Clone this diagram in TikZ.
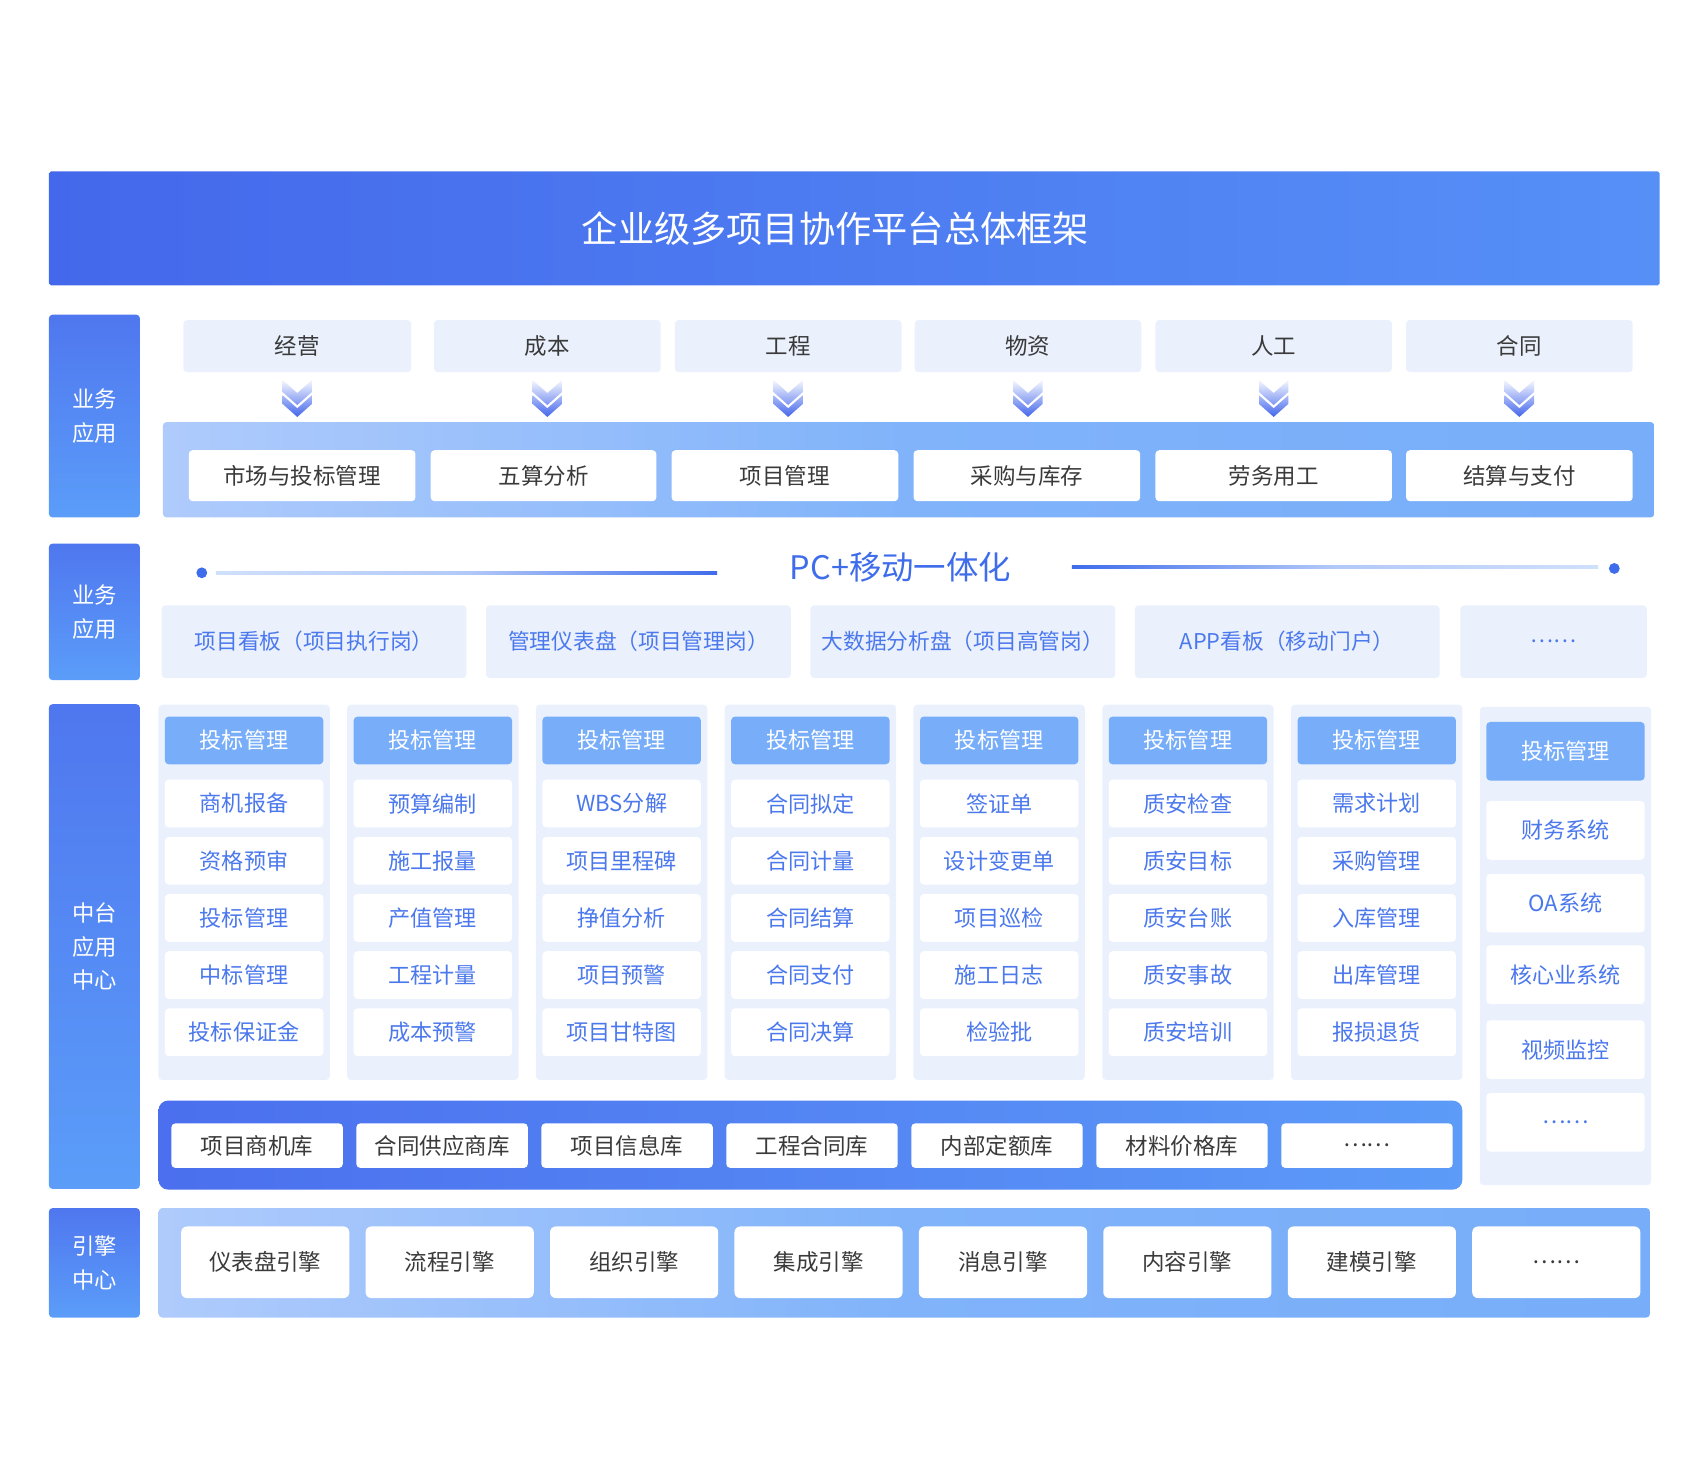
\documentclass[tikz,border=0pt]{standalone}
\usepackage{fontspec}
\setmainfont{Noto Sans CJK SC}
\usetikzlibrary{positioning}
\definecolor{titleL}{HTML}{4468EB}
\definecolor{titleR}{HTML}{5690F7}
\definecolor{sideT}{HTML}{4F77EF}
\definecolor{sideB}{HTML}{5B9DF9}
\definecolor{paleBox}{HTML}{EAF1FD}
\definecolor{bandL}{HTML}{AFCBFC}
\definecolor{bandM}{HTML}{80B3FA}
\definecolor{bandR}{HTML}{77ADF9}
\definecolor{deepL}{HTML}{4B6FEE}
\definecolor{deepR}{HTML}{5C9BF8}
\definecolor{headBox}{HTML}{78AEF9}
\definecolor{grayTxt}{HTML}{3A3A3A}
\definecolor{blueTxt}{HTML}{4B78EC}
\definecolor{pcBlue}{HTML}{3F6CEB}
\definecolor{lineLt}{HTML}{CFE0FB}
\definecolor{chevTop}{HTML}{F4F7FE}
\definecolor{chevBot}{HTML}{4466EC}
\begin{document}
\begin{tikzpicture}[x=0.02cm,y=-0.02cm]
\tikzstyle{every node}=[inner sep=0pt,rounded corners=2pt]
\tikzstyle{title}=[left color=titleL,right color=titleR,rounded corners=1pt,
  minimum width=29.7cm,minimum height=2.1cm]
\tikzstyle{side}=[top color=sideT,bottom color=sideB,text=white,minimum width=1.68cm,
  align=center,font=\fontsize{11.7}{17.6}\selectfont]
\tikzstyle{cat}=[fill=paleBox,text=grayTxt,minimum height=0.96cm,font=\fontsize{11.8}{14}\selectfont]
\tikzstyle{band}=[left color=bandL,right color=bandR,middle color=bandM]
\tikzstyle{app}=[fill=white,text=grayTxt,minimum height=0.94cm,font=\fontsize{11.8}{14}\selectfont]
\tikzstyle{view}=[fill=paleBox,text=blueTxt,minimum height=1.34cm,font=\fontsize{11.4}{14}\selectfont]
\tikzstyle{panel}=[fill=paleBox,minimum width=3.16cm]
\tikzstyle{head}=[fill=headBox,text=white,minimum width=2.92cm,font=\fontsize{11.6}{14}\selectfont]
\tikzstyle{item}=[fill=white,text=blueTxt,minimum width=2.92cm,font=\fontsize{11.6}{14}\selectfont]
\tikzstyle{deep}=[left color=deepL,right color=deepR,rounded corners=5pt]
\tikzstyle{store}=[fill=white,text=grayTxt,minimum width=3.16cm,minimum height=0.82cm,
  font=\fontsize{11.8}{14}\selectfont]
\tikzstyle{engine}=[fill=white,text=grayTxt,rounded corners=3pt,minimum width=3.1cm,
  minimum height=1.32cm,font=\fontsize{11.8}{14}\selectfont]
\tikzstyle{dot}=[circle,fill=pcBlue,minimum size=0.2cm]
\fill[white] (0,0) rectangle (1567,1364);
\useasboundingbox (0,0) rectangle (1567,1364);

% title
\node[title] (title) at (787.5,210.5) {};
\node[text=white,font=\fontsize{19}{22}\selectfont] (titleText) at (770,210.5) {企业级多项目协作平台总体框架};

% side labels
\node[side,minimum height=3.74cm] (s1) at (87,383.5) {业务\\应用};
\node[side,minimum height=2.52cm] (s2) at (87,564) {业务\\应用};
\node[side,minimum height=8.94cm] (s3) at (87,872.5) {中台\\应用\\中心};
\node[side,minimum height=2.02cm] (s4) at (87,1164) {引擎\\中心};

% business row
\node[band,minimum width=27.5cm,minimum height=1.76cm] (b1) at (837.5,433) {};
\foreach \x/\w/\t [count=\i] in {274/4.2/经营,504.5/4.18/成本,726.5/4.18/工程,
    947.5/4.18/物资,1174/4.36/人工,1400.5/4.18/合同}
  \node[cat,minimum width=\w cm] (c\i) at (\x,319) {\t};
\foreach \x/\w/\t [count=\i] in {278.5/4.18/市场与投标管理,501/4.16/五算分析,723.5/4.18/项目管理,
    946.5/4.18/采购与库存,1174/4.36/劳务用工,1400.5/4.18/结算与支付}
  \node[app,minimum width=\w cm] (a\i) at (\x,438.5) {\t};
\foreach \i in {1,...,6}{
  \begin{scope}[shift={(c\i.south)}]
    \shade[top color=chevTop,bottom color=chevBot]
      (-13.5,7) -- (0,19) -- (13.5,7) -- (13.5,18) -- (0,30) -- (-13.5,18) -- cycle
      (-13.5,21) -- (0,33) -- (13.5,21) -- (13.5,29) -- (0,41) -- (-13.5,29) -- cycle;
  \end{scope}
}

% PC + mobile
\node[text=pcBlue,font=\fontsize{17}{20}\selectfont] (pc) at (830,523) {PC+移动一体化};
\node[dot] (dotL) at (186,528) {};
\node[dot] (dotR) at (1488,524) {};
\shade[left color=lineLt,right color=pcBlue,middle color=lineLt!80!pcBlue] (199,526.7) rectangle (661,529.3);
\shade[left color=pcBlue,right color=lineLt,middle color=lineLt!80!pcBlue] (988,521.7) rectangle (1473,524.3);
\foreach \x/\w/\t [count=\i] in {289.5/5.62/项目看板（项目执行岗）,588.5/5.62/管理仪表盘（项目管理岗）,
    887.5/5.62/大数据分析盘（项目高管岗）,1186.5/5.62/APP看板（移动门户）,1432/3.44/……}
  \node[view,minimum width=\w cm] (v\i) at (\x,591.5) {\t};

% middle platform
\foreach \a/\b/\c/\d/\e [count=\i] in {商机报备/资格预审/投标管理/中标管理/投标保证金,
    预算编制/施工报量/产值管理/工程计量/成本预警,
    WBS分解/项目里程碑/挣值分析/项目预警/项目甘特图,
    合同拟定/合同计量/合同结算/合同支付/合同决算,
    签证单/设计变更单/项目巡检/施工日志/检验批,
    质安检查/质安目标/质安台账/质安事故/质安培训,
    需求计划/采购管理/入库管理/出库管理/报损退货}{
  \node[panel,minimum height=6.92cm] (p\i) at (51+174*\i,822.5) {};
  \node[head,minimum height=0.88cm] (h\i) at (51+174*\i,682.5) {投标管理};
  \foreach \t [count=\j] in {\a,\b,\c,\d,\e}
    \node[item,minimum height=0.88cm] (m\i-\j) at (51+174*\i,688+52.7*\j) {\t};
}
\node[panel,minimum height=8.82cm] (p8) at (1443,872) {};
\node[head,minimum height=1.08cm] (h8) at (1443,692.5) {投标管理};
\foreach \y/\t [count=\j] in {765.5/财务系统,832.5/OA系统,898.5/核心业系统,967.5/视频监控,1034.5/……}
  \node[item,minimum height=1.08cm] (m8-\j) at (1443,\y) {\t};

% data stores
\node[deep,minimum width=24.04cm,minimum height=1.64cm] (db) at (747,1055.5) {};
\foreach \t [count=\i] in {项目商机库,合同供应商库,项目信息库,工程合同库,内部定额库,材料价格库,……}
  \node[store] (d\i) at (66.5+170.5*\i,1056) {\t};

% engines
\node[band,minimum width=27.5cm,minimum height=2.02cm] (eb) at (833.5,1164) {};
\foreach \t [count=\i] in {仪表盘引擎,流程引擎,组织引擎,集成引擎,消息引擎,内容引擎,建模引擎,……}
  \node[engine] (e\i) at (74.5+170*\i,1163.5) {\t};
\end{tikzpicture}
\end{document}
